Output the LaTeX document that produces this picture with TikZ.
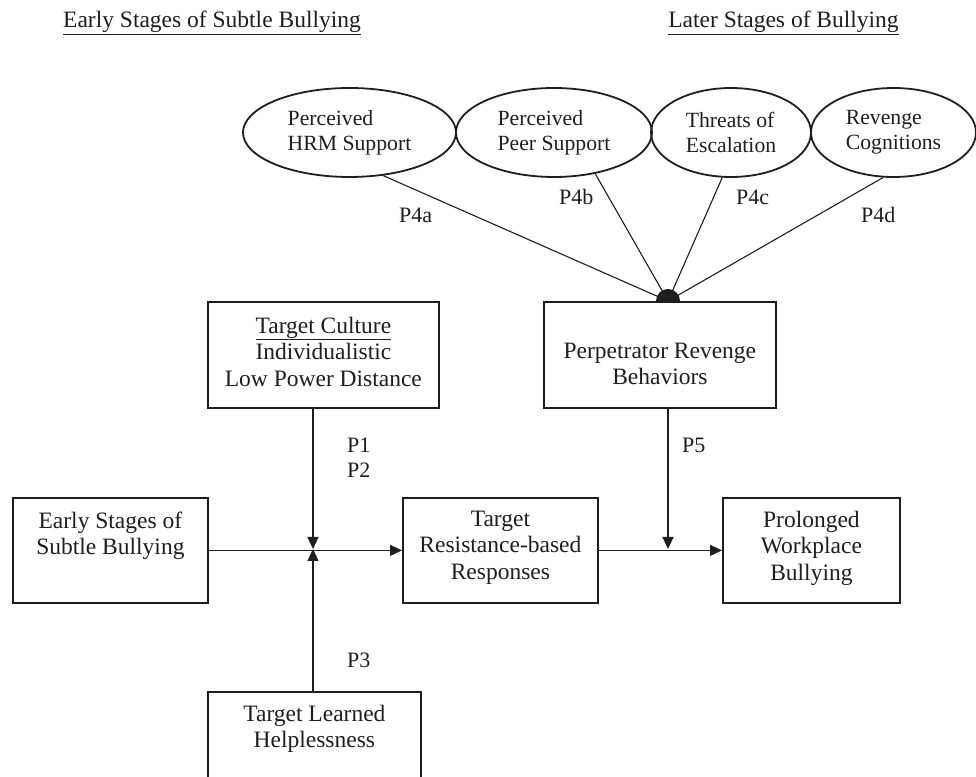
\documentclass[tikz,border=0pt]{standalone}
\usepackage{fontspec}
\setmainfont{Liberation Serif}
\usetikzlibrary{arrows.meta,shapes.geometric}
\newcommand\bxt[4]{\vbox to #2{\hsize=#1\relax\parindent=0pt\vskip#3\relax\centering #4\par\vfil}}
\definecolor{ink}{HTML}{1E1E1E}
\tikzset{
  boxnode/.style={draw=ink, line width=1.8pt, inner sep=0pt, anchor=north west, text=ink,
    font=\fontsize{23.5}{26.5}\selectfont},
  ellnode/.style={draw=ink, line width=1.8pt, ellipse, inner sep=0pt, align=left, text=ink,
    font=\fontsize{21.7}{25}\selectfont},
  lbl/.style={anchor=base west, inner sep=0pt, text=ink, font=\fontsize{22}{24}\selectfont},
  hdr/.style={anchor=base, inner sep=0pt, text=ink, font=\fontsize{23.5}{26}\selectfont},
  conn/.style={draw=ink, line width=1.1pt},
  arr/.style={conn, -{Triangle[length=12pt,width=11pt]}}
}
\begin{document}
\begin{tikzpicture}[x=1pt,y=1pt]
\useasboundingbox (0,0) rectangle (976,776);
% headers
\node[hdr] (hleft) at (212,748) {\underline{Early Stages of Subtle Bullying}};
\node[hdr] (hright) at (783.5,748) {\underline{Later Stages of Bullying}};
% ellipses
\node[ellnode, minimum width=213pt, minimum height=89pt] (e1) at (349.5,643.5) {Perceived\\HRM Support};
\node[ellnode, minimum width=196pt, minimum height=89pt] (e2) at (554,643.5) {Perceived\\Peer Support};
\node[ellnode, minimum width=160pt, minimum height=89pt] (e3) at (731,643.5) {Threats of\\Escalation};
\node[ellnode, minimum width=165pt, minimum height=89pt] (e4) at (893.5,643.5) {Revenge\\Cognitions};
% boxes
\node[boxnode] (culture) at (207,475) {\bxt{231pt}{106pt}{15pt}{\underline{Target Culture}\\Individualistic\\Low Power Distance}};
\node[boxnode] (perp) at (543,475) {\bxt{232pt}{106pt}{41pt}{Perpetrator Revenge\\Behaviors}};
\node[boxnode] (early) at (12,279) {\bxt{195pt}{105pt}{14pt}{Early Stages of\\Subtle Bullying}};
\node[boxnode] (resist) at (402,279) {\bxt{195pt}{105pt}{13pt}{Target\\Resistance-based\\Responses}};
\node[boxnode] (prolong) at (722,279) {\bxt{177pt}{105pt}{13pt}{Prolonged\\Workplace\\Bullying}};
\node[boxnode] (helpless) at (207,85) {\bxt{213pt}{120pt}{13pt}{Target Learned\\Helplessness}};
% hub and junctions
\coordinate (hub) at (668,475);
\coordinate (junc) at (313,227);
\coordinate (junc2) at (668,227);
\fill[ink] (hub) ++(-12,0) arc[start angle=180,end angle=0,radius=12] -- cycle;
% moderator lines
\draw[conn] (e1.-52.4) -- (hub);
\draw[conn] (e2.-45.3) -- (hub);
\draw[conn] (e3.-101.4) -- (hub);
\draw[conn] (e4.-103.6) -- (hub);
% arrows
\draw[arr] (early.east) -- (resist.west);
\draw[arr] (resist.east) -- (prolong.west);
\draw[arr] (culture.south -| junc) -- (junc);
\draw[arr] (helpless.north -| junc) -- (junc);
\draw[arr] (perp.south -| junc2) -- (junc2);
% labels
\node[lbl] (p4a) at (399,553) {P4a};
\node[lbl] (p4b) at (559,571) {P4b};
\node[lbl] (p4c) at (736,571) {P4c};
\node[lbl] (p4d) at (861,553) {P4d};
\node[lbl] (p1) at (347,323) {P1};
\node[lbl] (p2) at (347,298) {P2};
\node[lbl] (p3) at (347,109) {P3};
\node[lbl] (p5) at (682,323) {P5};
\end{tikzpicture}
\end{document}
